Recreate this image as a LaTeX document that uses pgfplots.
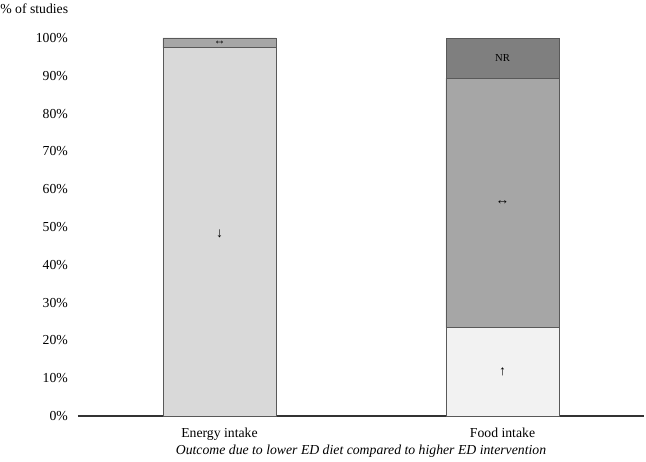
\documentclass[border=0pt]{standalone}
\usepackage{fontspec}
\setmainfont{Liberation Serif}
\usepackage{pgfplots}
\pgfplotsset{compat=1.18}
\definecolor{cdown}{HTML}{D9D9D9}
\definecolor{cup}{HTML}{F2F2F2}
\definecolor{csame}{HTML}{A6A6A6}
\definecolor{cnr}{HTML}{7F7F7F}
\definecolor{cedge}{HTML}{595959}
\begin{document}
\fontsize{10.3}{12}\selectfont
\begin{tikzpicture}
\path[use as bounding box] (-58.5pt,-33.75pt) rectangle (426pt,312pt);
\begin{axis}[
  scale only axis,
  width=424.5pt, height=283.5pt,
  ybar stacked, bar width=0.4,
  xmin=-0.5, xmax=1.5, ymin=0, ymax=100,
  xtick={0,1}, xticklabels={Energy intake, Food intake},
  ytick={0,10,...,100},
  yticklabel={\pgfmathprintnumber{\tick}\%},
  /pgf/number format/assume math mode=true,
  axis x line*=bottom, axis y line*=left,
  y axis line style={draw=none},
  x axis line style={draw=black!80, line width=0.9pt, -},
  major tick length=0pt,
  ticklabel style={font=\fontsize{10.3}{12}\selectfont},
  yticklabel style={xshift=-4pt},
  xticklabel style={yshift=-5.5pt},
  xlabel={\itshape Outcome due to lower ED diet compared to higher ED intervention},
  xlabel style={font=\fontsize{10.3}{12}\selectfont, yshift=3.5pt},
  every axis plot/.append style={draw=cedge, line width=0.6pt},
  clip=false,
]
\addplot[fill=cdown] coordinates {(0,97.4) (1,0)};
\addplot[fill=cup] coordinates {(0,0) (1,23.4)};
\addplot[fill=csame] coordinates {(0,2.6) (1,66.0)};
\addplot[fill=cnr] coordinates {(0,0) (1,10.6)};
\coordinate (l1) at (axis cs:0,48.3);
\coordinate (l2) at (axis cs:0,98.7);
\coordinate (l3) at (axis cs:1,11.7);
\coordinate (l4) at (axis cs:1,56.4);
\coordinate (l5) at (axis cs:1,94.7);
\end{axis}
\node at (l1) {↓};
\node[inner sep=0pt] at (l2) {\small ↔};
\node at (l3) {↑};
\node at (l4) {↔};
\node at (l5) {\footnotesize NR};
\node[anchor=base west, inner sep=0pt] at (-58.5pt,302pt) {\% of studies};
\end{tikzpicture}
\end{document}
